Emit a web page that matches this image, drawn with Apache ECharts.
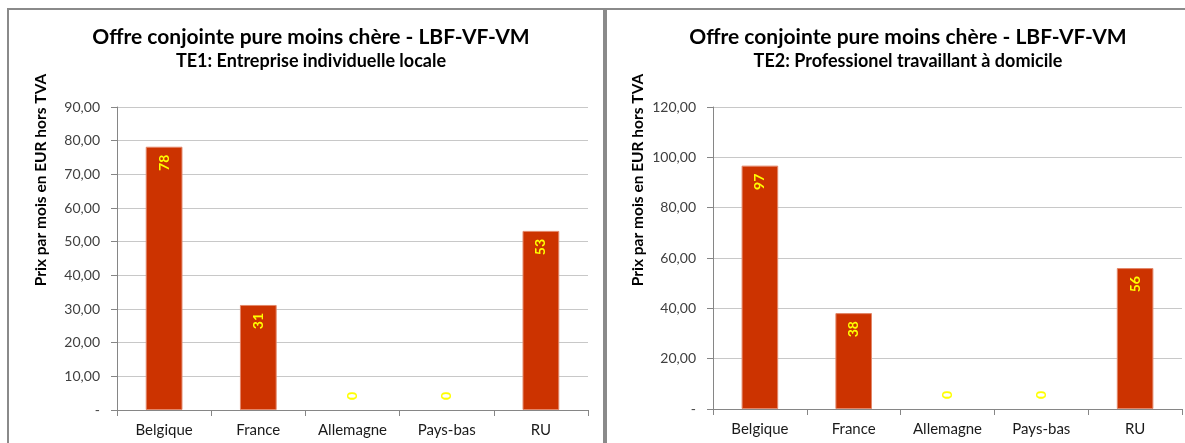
<!DOCTYPE html>
<html><head><meta charset="utf-8">
<script src="https://cdn.jsdelivr.net/npm/echarts@6/dist/echarts.min.js"></script>
<style>html,body{margin:0;padding:0;background:#fff}#c{width:1185px;height:443px}</style>
</head><body><div id="c"></div>
<script>
const categories = ['Belgique', 'France', 'Allemagne', 'Pays-bas', 'RU'];
const valuesTE1 = [78.2, 31.2, 0, 0, 53.2];
const valuesTE2 = [96.7, 38.1, 0, 0, 56.0];
const mainTitle = 'Offre conjointe pure moins chère - LBF-VF-VM';
const subTitle1 = 'TE1: Entreprise individuelle locale';
const subTitle2 = 'TE2: Professionel travaillant à domicile';
const yAxisName = 'Prix par mois en EUR hors TVA';
const yMax1 = 90, yInt1 = 10;
const yMax2 = 120, yInt2 = 20;

const FONT = 'Lato';
const chart = echarts.init(document.getElementById('c'), null, {renderer: 'canvas'});

function fmtTick(v) { return v === 0 ? '-' : v.toFixed(2).replace('.', ','); }
function barData(vals) {
  return vals.map(v => v === 0
    ? {value: v, itemStyle: {borderWidth: 0}, label: {position: 'top', align: 'left', distance: 10}}
    : {value: v});
}
function yAxis(gi, max, interval) {
  return {
    type: 'value', gridIndex: gi, min: 0, max: max, interval: interval,
    axisLine: {show: true, lineStyle: {color: '#868686', width: 1}},
    axisTick: {show: true, inside: false, length: 6, lineStyle: {color: '#868686'}},
    splitLine: {show: true, lineStyle: {color: '#c8c8c8', width: 1}},
    axisLabel: {formatter: fmtTick, fontFamily: FONT, fontSize: 14, color: '#404040', margin: 17}
  };
}
function xAxis(gi) {
  return {
    type: 'category', gridIndex: gi, data: categories,
    axisLine: {show: true, lineStyle: {color: '#868686', width: 1}},
    axisTick: {show: true, alignWithLabel: false, length: 6, lineStyle: {color: '#868686'}},
    axisLabel: {fontFamily: FONT, fontSize: 15, color: '#1a1a1a', margin: 13}
  };
}
function series(idx, vals) {
  return {
    type: 'bar', xAxisIndex: idx, yAxisIndex: idx, data: barData(vals),
    barWidth: '39%',
    itemStyle: {color: '#cc3300', borderColor: '#e2876a', borderWidth: 1},
    label: {
      show: true, position: 'insideTop', rotate: 90, align: 'right', verticalAlign: 'middle',
      distance: 8, color: '#ffff00', fontWeight: 'bold', fontFamily: FONT, fontSize: 14,
      formatter: p => String(Math.round(p.value))
    }
  };
}
const titleStyle = {fontFamily: FONT, fontWeight: 'bold', fontSize: 21, color: '#000'};
const subStyle = {fontFamily: FONT, fontWeight: 'bold', fontSize: 18, color: '#000'};

chart.setOption({
  animation: false,
  backgroundColor: '#ffffff',
  title: [
    {text: mainTitle, subtext: subTitle1, left: 306, top: 22, textAlign: 'center', itemGap: 4,
     textStyle: titleStyle, subtextStyle: subStyle},
    {text: mainTitle, subtext: subTitle2, left: 903, top: 22, textAlign: 'center', itemGap: 4,
     textStyle: titleStyle, subtextStyle: subStyle}
  ],
  grid: [
    {left: 117, right: 597, top: 107, bottom: 33},
    {left: 713, right: 3, top: 107, bottom: 34}
  ],
  xAxis: [xAxis(0), xAxis(1)],
  yAxis: [yAxis(0, yMax1, yInt1), yAxis(1, yMax2, yInt2)],
  series: [series(0, valuesTE1), series(1, valuesTE2)],
  graphic: [
    {type: 'rect', shape: {x: 8, y: 9, width: 596, height: 460}, style: {fill: 'none', stroke: '#8a8a8a', lineWidth: 2}, silent: true, z: -1},
    {type: 'rect', shape: {x: 606, y: 9, width: 600, height: 460}, style: {fill: 'none', stroke: '#8a8a8a', lineWidth: 2}, silent: true, z: -1},
    {type: 'text', x: 41, y: 180, rotation: Math.PI / 2,
     style: {text: yAxisName, fontFamily: FONT, fontWeight: 'bold', fontSize: 15.5, fill: '#000', textAlign: 'center', textVerticalAlign: 'middle'}},
    {type: 'text', x: 638, y: 180, rotation: Math.PI / 2,
     style: {text: yAxisName, fontFamily: FONT, fontWeight: 'bold', fontSize: 15.5, fill: '#000', textAlign: 'center', textVerticalAlign: 'middle'}}
  ]
});
</script></body></html>
